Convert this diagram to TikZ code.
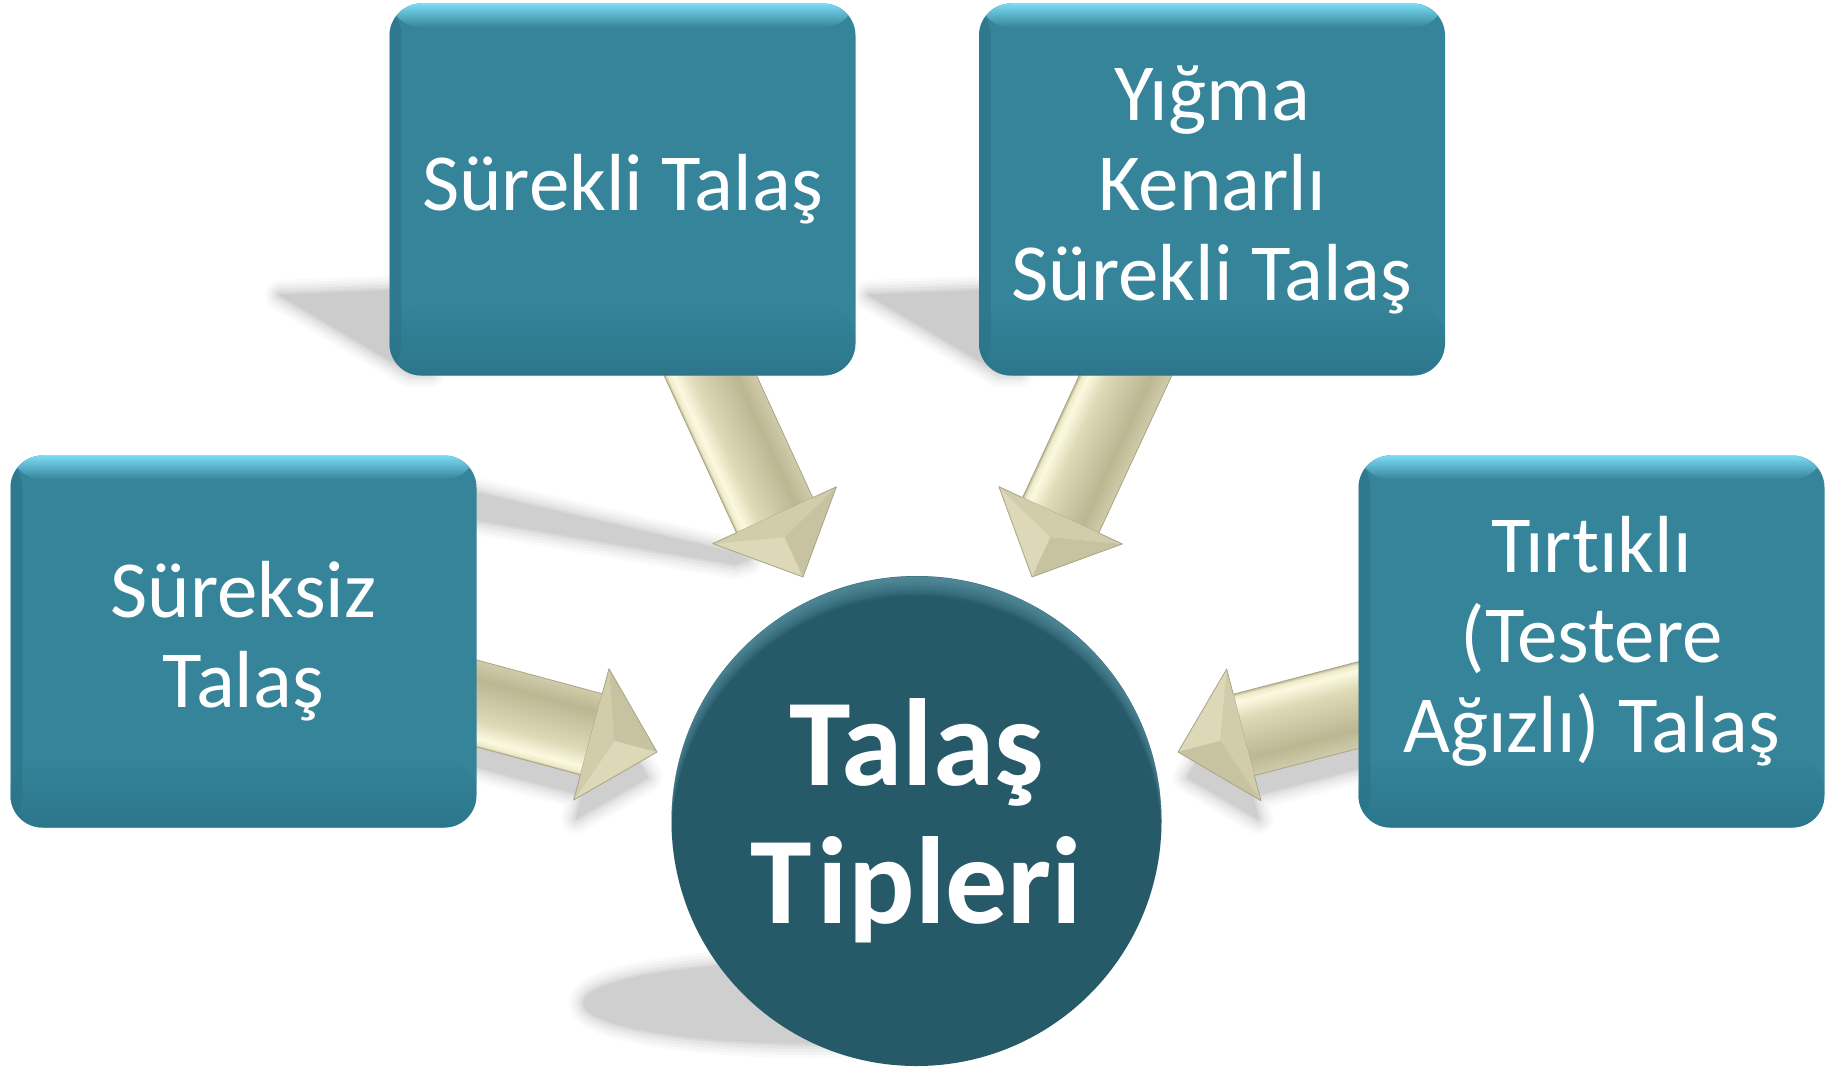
\documentclass[tikz,border=0pt]{standalone}
\usepackage{fontspec}
\setmainfont{Carlito}[Ligatures=NoCommon]
\usetikzlibrary{calc,fadings}
\definecolor{boxc}{HTML}{35849A}
\definecolor{boxtop}{HTML}{7CDCF4}
\definecolor{boxbot}{HTML}{2A7388}
\definecolor{boxleft}{HTML}{276C80}
\definecolor{circc}{HTML}{265A69}
\definecolor{circtop}{HTML}{6FAABA}
\definecolor{arrA}{HTML}{C2BD99}
\definecolor{arrHi2}{HTML}{EEEACA}
\definecolor{arrHi}{HTML}{FCF9E0}
\definecolor{arrB}{HTML}{DEDAB8}
\definecolor{arrC}{HTML}{CCC7A4}
\definecolor{arrD}{HTML}{BCB793}
\definecolor{arrE}{HTML}{D0CBAA}
\definecolor{arrfR}{HTML}{DCD8B8}
\definecolor{arrfL}{HTML}{C7C29F}
\definecolor{arrfB}{HTML}{D1CCAA}
\definecolor{arredge}{HTML}{A9A483}
\pgfdeclareverticalshading{arrshade}{100bp}{color(0bp)=(arrA); color(25bp)=(arrA); color(26.5bp)=(arrHi2); color(30bp)=(arrHi); color(40bp)=(arrB); color(52bp)=(arrC); color(64bp)=(arrD); color(73bp)=(arrC); color(75bp)=(arrE); color(100bp)=(arrE)}

\newcommand{\softshape}[2]{%
  \foreach \w/\f in {30/0.1,24/0.22,18/0.38,12/0.56,6/0.76,2/0.92}{%
    \pgfmathsetmacro\cc{#2*\f}%
    \draw[black!\cc, line width=\w pt, line join=round] #1;}%
  \fill[black!#2] #1;}

\newcommand{\arrowgeom}[2]{%
  \pgfpointanchor{#1}{center}\pgfgetlastxy{\ArrSX}{\ArrSY}%
  \pgfpointdiff{\pgfpointanchor{#1}{center}}{\pgfpointanchor{#2}{center}}\pgfgetlastxy{\ArrDX}{\ArrDY}%
  \pgfmathsetmacro\ArrAng{atan2(\ArrDY,\ArrDX)}%
  \pgfmathsetmacro\ArrSh{veclen(\ArrDX,\ArrDY)-68}}

\newcommand{\bigarrow}[2]{%
  \arrowgeom{#1}{#2}%
  \begin{scope}[transform canvas={shift={(\ArrSX,\ArrSY)},rotate=\ArrAng}]
    \shade[shading=arrshade, draw=arredge, line width=0.8pt] (0,-42) rectangle (\ArrSh,42);
    \fill[arrfB] (\ArrSh,68) -- (\ArrSh+24,0) -- (\ArrSh,-68) -- cycle;
    \fill[arrfR] (\ArrSh,68) -- (\ArrSh+68,0) -- (\ArrSh+24,0) -- cycle;
    \fill[arrfL] (\ArrSh,-68) -- (\ArrSh+68,0) -- (\ArrSh+24,0) -- cycle;
    \draw[arredge!60, line width=0.4pt] (\ArrSh,68) -- (\ArrSh+24,0) -- (\ArrSh,-68) (\ArrSh+24,0) -- (\ArrSh+68,0);
    \draw[arredge, line width=0.8pt, line join=round] (\ArrSh,42) -- (\ArrSh,68) -- (\ArrSh+68,0) -- (\ArrSh,-68) -- (\ArrSh,-42);
  \end{scope}}

\newcommand{\arrowshadow}[3]{%
  \arrowgeom{#1}{#2}%
  \begin{scope}[transform canvas={shift={(0pt,-#3pt)},shift={(\ArrSX,\ArrSY)},rotate=\ArrAng}]
    \softshape{(0,-34) -- (\ArrSh,-34) -- (\ArrSh,-58) -- (\ArrSh+58,0) -- (\ArrSh,58) -- (\ArrSh,34) -- (0,34) -- cycle}{19}
  \end{scope}}

\begin{document}
\begin{tikzpicture}[x=1pt,y=-1pt,
  tbox/.style={rectangle, rounded corners=32pt, minimum width=466pt, minimum height=372pt,
    inner sep=0pt, fill=boxc, text=white, align=center,
    font=\fontsize{81pt}{90pt}\selectfont,
    path picture={
      \fill[boxleft, opacity=0.45, path fading=east] (path picture bounding box.north west) rectangle ([xshift=12pt]path picture bounding box.south west);
      \fill[boxtop, path fading=south] (path picture bounding box.north west) rectangle ([yshift=-24pt]path picture bounding box.north east);
      \fill[boxbot, opacity=0.8, path fading=north] ([yshift=70pt]path picture bounding box.south west) rectangle (path picture bounding box.south east);
    }},
  hub/.style={circle, minimum size=490pt, inner sep=0pt, fill=circc, text=white, align=center,
    font=\bfseries\fontsize{124pt}{138pt}\selectfont,
    path picture={
      \foreach \s in {2,4,...,20}{
        \fill[circtop, opacity=0.09, even odd rule, path fading=south]
          (path picture bounding box.center) circle (245pt)
          ([yshift=-\s pt]path picture bounding box.center) circle (245pt);}
    }}]
\useasboundingbox (0,0) rectangle (1837,1069);
\fill[white] (0,0) rectangle (1837,1069);

% arrow end points
\coordinate (a1s) at (694,340);  \coordinate (a1t) at (803,577);
\coordinate (a2s) at (1142,340); \coordinate (a2t) at (1032,577);
\coordinate (a3s) at (438,693);  \coordinate (a3t) at (657,752);
\coordinate (a4s) at (1397,695); \coordinate (a4t) at (1178,752);

% shadows
\softshape{(280,295) -- (430,289) -- (430,372) -- (410,372) -- cycle}{20}
\softshape{(869,295) -- (1019,289) -- (1019,372) -- (999,372) -- cycle}{20}
\softshape{(472,492) -- (735,553) -- (748,560) -- (735,564) -- (472,519) -- cycle}{19}
\softshape{(812,1003) ellipse [x radius=228pt, y radius=40pt]}{19}
\arrowshadow{a3s}{a3t}{28}
\arrowshadow{a4s}{a4t}{28}

% arrows
\bigarrow{a1s}{a1t}
\bigarrow{a2s}{a2t}
\bigarrow{a3s}{a3t}
\bigarrow{a4s}{a4t}

% boxes
\node[tbox] (b1) at (622.5,189.5) {Sürekli Talaş};
\node[tbox] (b2) at (1212,189.5) {Yığma\\Kenarlı\\Sürekli Talaş};
\node[tbox] (b3) at (243.5,641.5) {Süreksiz\\Talaş};
\node[tbox] (b4) at (1591.5,641.5) {Tırtıklı\\(Testere\\Ağızlı) Talaş};

\node[hub] (hub) at (916.5,821) {Talaş\\T\kern6pt ipleri};
\end{tikzpicture}
\end{document}
